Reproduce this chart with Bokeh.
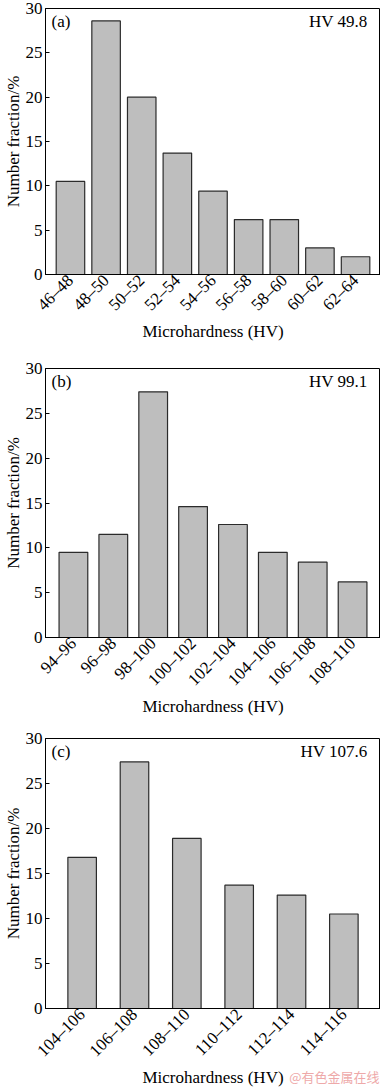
import math
from bokeh.plotting import figure
from bokeh.layouts import column
from bokeh.models import Range1d, FixedTicker, Label, ColumnDataSource, LinearAxis
from bokeh.embed import file_html
from bokeh.resources import INLINE

# ---- data ----
cats_a = ["46–48", "48–50", "50–52", "52–54", "54–56", "56–58", "58–60", "60–62", "62–64"]
vals_a = [10.5, 28.6, 20.0, 13.7, 9.4, 6.2, 6.2, 3.0, 2.0]
cats_b = ["94–96", "96–98", "98–100", "100–102", "102–104", "104–106", "106–108", "108–110"]
vals_b = [9.5, 11.5, 27.4, 14.6, 12.6, 9.5, 8.4, 6.2]
cats_c = ["104–106", "106–108", "108–110", "110–112", "112–114", "114–116"]
vals_c = [16.8, 27.4, 18.9, 13.7, 12.6, 10.5]
panel_tags = ["(a)", "(b)", "(c)"]
panel_hv = ["HV 49.8", "HV 99.1", "HV 107.6"]
y_ticks = [0, 5, 10, 15, 20, 25, 30]
x_title = "Microhardness (HV)"
y_title = "Number fraction/%"
watermark = "@有色金属在线"

FONT = "Liberation Serif"
FS = "17px"


def make_panel(cats, vals, tag, hv, frame_h, top, bar_w, pad=0.7):
    n = len(cats)
    xs = list(range(n))
    p = figure(width=380, frame_height=frame_h, output_backend="svg", toolbar_location=None,
               x_range=Range1d(-pad, n - 1 + pad), y_range=Range1d(0, 30),
               min_border_left=0, min_border_right=0, min_border_top=top,
               min_border_bottom=0)
    p.grid.visible = False
    p.background_fill_color = "white"
    p.border_fill_color = "white"
    p.outline_line_color = "black"
    p.outline_line_width = 1
    src = ColumnDataSource(dict(x=xs, top=vals))
    p.vbar(x="x", top="top", width=bar_w, bottom=0, source=src,
           fill_color="#bebebe", line_color="#2b2b2b", line_width=1.2)

    xa = p.xaxis[0]
    xa.ticker = FixedTicker(ticks=xs)
    xa.major_label_overrides = {i: c for i, c in zip(xs, cats)}
    xa.major_label_orientation = math.pi / 4
    xa.major_tick_in = 0
    xa.major_tick_out = 0
    xa.minor_tick_in = 0
    xa.minor_tick_out = 0
    xa.major_label_standoff = 3
    xa.axis_label = x_title
    xa.axis_label_standoff = -2

    ya = p.yaxis[0]
    ya.ticker = FixedTicker(ticks=y_ticks)
    ya.major_tick_in = 4
    ya.major_tick_out = 0
    ya.minor_tick_in = 0
    ya.minor_tick_out = 0
    ya.major_label_standoff = 3
    ya.axis_label = y_title
    ya.axis_label_standoff = 0

    for ax in (xa, ya):
        ax.axis_line_color = "black"
        ax.axis_line_width = 1
        ax.major_tick_line_color = "black"
        ax.major_label_text_font = FONT
        ax.major_label_text_font_size = FS
        ax.major_label_text_color = "black"
        ax.axis_label_text_font = FONT
        ax.axis_label_text_font_size = FS
        ax.axis_label_text_font_style = "normal"
        ax.axis_label_text_color = "black"

    p.add_layout(Label(x=-pad, y=28.55, x_offset=6, text=tag, text_font=FONT,
                       text_font_size=FS, text_baseline="middle", text_align="left",
                       text_color="black"))
    p.add_layout(Label(x=n - 1 + pad, y=28.55, x_offset=-13, text=hv, text_font=FONT,
                       text_font_size=FS, text_baseline="middle", text_align="right",
                       text_color="black"))
    return p


pa = make_panel(cats_a, vals_a, panel_tags[0], panel_hv[0], 266, 8, 0.8)
pb = make_panel(cats_b, vals_b, panel_tags[1], panel_hv[1], 269, 25, 0.72)
pc = make_panel(cats_c, vals_c, panel_tags[2], panel_hv[2], 270, 19, 0.545)

# watermark placed as a single tick label on an extra bottom axis
wm_pos = 4.82
wm = LinearAxis(ticker=FixedTicker(ticks=[wm_pos]),
                major_label_overrides={wm_pos: watermark},
                major_label_standoff=-24,
                axis_line_color=None, major_tick_line_color=None,
                minor_tick_line_color=None,
                major_tick_in=0, major_tick_out=0,
                major_label_text_font="Noto Sans CJK SC",
                major_label_text_font_size="13px",
                major_label_text_color="#eea9a9")
pc.add_layout(wm, "below")

layout = column(pa, pb, pc, spacing=0)
open("out.html", "w").write(file_html(layout, INLINE))
